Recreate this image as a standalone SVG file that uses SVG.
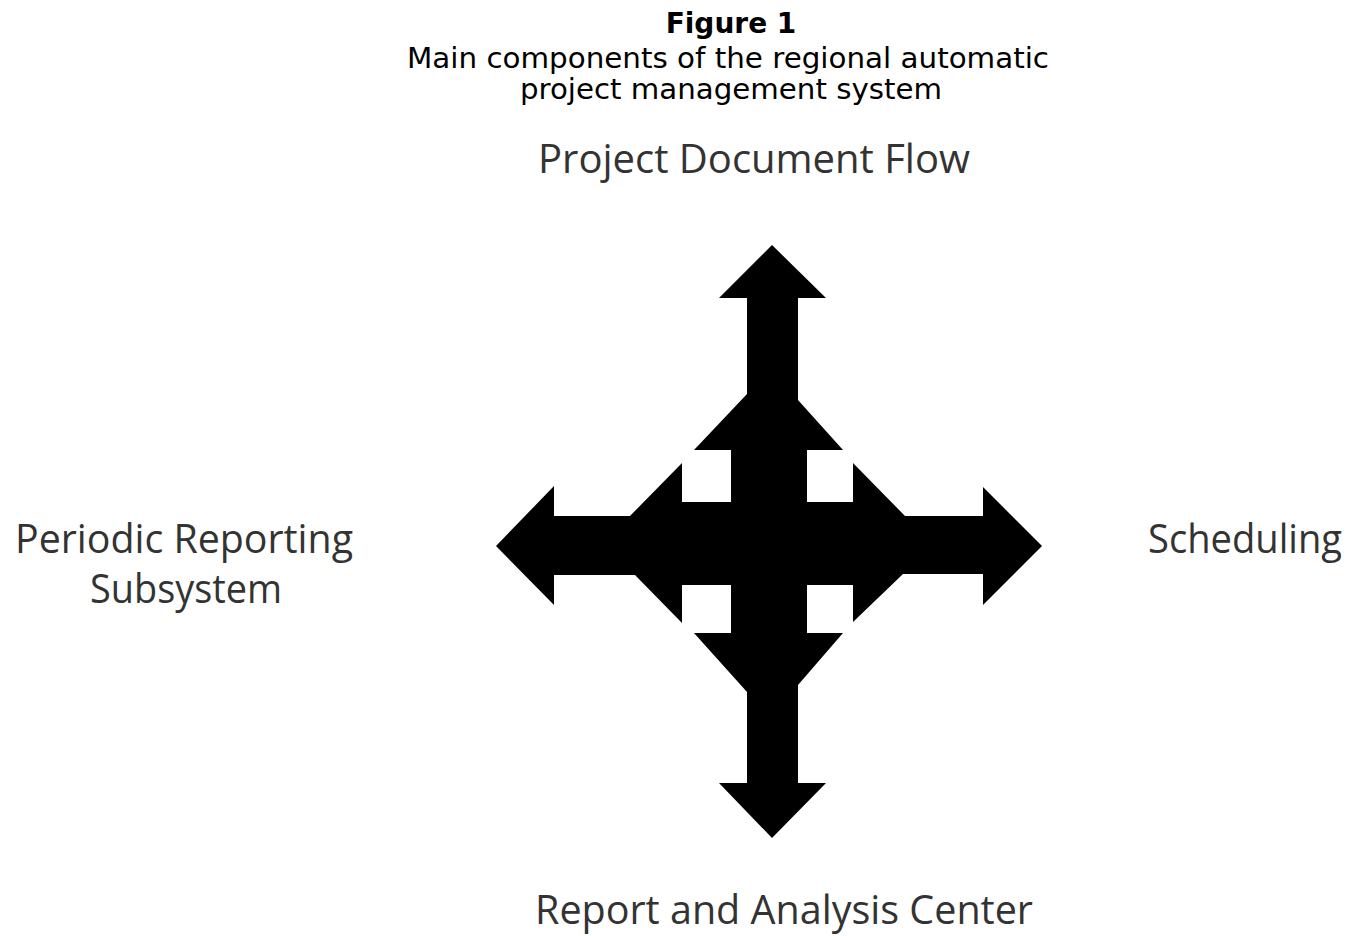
<svg xmlns="http://www.w3.org/2000/svg" width="1349" height="936" viewBox="0 0 1349 936">
  <style>
    .title { font-family: "DejaVu Sans", Verdana, sans-serif; font-size: 28px; fill: #000; text-anchor: middle; }
    .bold { font-weight: bold; }
    .label { font-family: "Open Sans", "Noto Sans", sans-serif; font-size: 40px; fill: #333; }
    .cross { fill: #000; }
  </style>
  <rect width="1349" height="936" fill="#fff"/>
  <g id="title">
    <text class="title bold" x="731" y="33">Figure 1</text>
    <text class="title" x="728" y="68" textLength="642" lengthAdjust="spacingAndGlyphs">Main components of the regional automatic</text>
    <text class="title" x="731" y="99" textLength="422" lengthAdjust="spacingAndGlyphs">project management system</text>
  </g>
  <g id="connectors">
    <polygon class="cross" points="772,245 826,298 798,298 798,400 843,450 807,450 807,502 853,502 853,463 905,516 983,516 983,487 1042,546 983,605 983,574 903,574 853,622 853,585 807,585 807,633 843,633 798,685 798,783 826,783 772,838 719,783 747,783 747,692 694,633 731,633 731,585 682,585 682,623 635,575 554,575 554,605 496,546 554,486 554,516 630,516 682,463 682,502 731,502 731,450 694,450 747,394 747,298 719,298"/>
  </g>
  <g id="node-project-document-flow">
    <text class="label" x="538" y="173" textLength="432" lengthAdjust="spacingAndGlyphs">Project Document Flow</text>
  </g>
  <g id="node-periodic-reporting">
    <text class="label" x="15" y="553" textLength="338" lengthAdjust="spacingAndGlyphs">Periodic Reporting</text>
    <text class="label" x="90" y="603" textLength="192" lengthAdjust="spacingAndGlyphs">Subsystem</text>
  </g>
  <g id="node-scheduling">
    <text class="label" x="1148" y="553" textLength="194" lengthAdjust="spacingAndGlyphs">Scheduling</text>
  </g>
  <g id="node-report-analysis">
    <text class="label" x="535" y="924" textLength="498" lengthAdjust="spacingAndGlyphs">Report and Analysis Center</text>
  </g>
</svg>
